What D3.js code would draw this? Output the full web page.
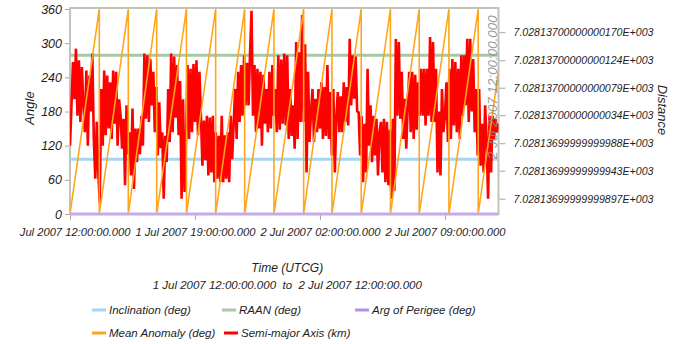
<!DOCTYPE html>
<html>
<head>
<meta charset="utf-8">
<script src="https://cdn.jsdelivr.net/npm/d3@7"></script>
<style>
  html, body { margin: 0; padding: 0; background: #fff; }
  svg { display: block; }
  text { font-family: "Liberation Sans", Arial, sans-serif; font-style: italic; fill: #1e1e1e; }
</style>
</head>
<body>
<svg id="chart" width="673" height="344"></svg>
<script>
// ---- data -------------------------------------------------------------
const startTime = Date.UTC(2007, 6, 1, 12, 0, 0);
const endTime   = Date.UTC(2007, 6, 2, 12, 0, 0);
const sampleStepMinutes = 5;

// time axis ticks (hours after start) and their labels
const timeTickHours = [0, 7, 14, 21];
const timeTickLabels = [
  "1 Jul 2007 12:00:00.000",
  "1 Jul 2007 19:00:00.000",
  "2 Jul 2007 02:00:00.000",
  "2 Jul 2007 09:00:00.000"
];
const endLabel = "2 Jul 2007 12:00:00.000";

// angle axis
const angleTicks = [0, 60, 120, 180, 240, 300, 360];

// distance axis: offsets from 7028.137 km, in units of 1e-14 km
const distBase = 7028.137;
const distTickOffsets = [-103, -57, -12, 34, 79, 124, 170];
const distTickLabels = [
  "7.02813699999999897E+003",
  "7.02813699999999943E+003",
  "7.02813699999999988E+003",
  "7.02813700000000034E+003",
  "7.02813700000000079E+003",
  "7.02813700000000124E+003",
  "7.02813700000000170E+003"
];

// constant elements (deg)
const inclinationHours = [0, 24];
const inclinationDeg   = [96, 96];
const raanHours = [0, 24];
const raanDeg   = [279, 279];
const argPerigeeHours = [0, 24];
const argPerigeeDeg   = [0, 0];

// mean anomaly: rises to 360 and wraps to 0 once per orbit
const anomalyHours = [0, 1.641, 1.641, 3.265, 3.265, 4.855, 4.855, 6.523, 6.523,
  8.159, 8.159, 9.782, 9.782, 11.423, 11.423, 13.086, 13.086, 14.671, 14.671,
  16.312, 16.312, 17.947, 17.947, 19.560, 19.560, 21.223, 21.223, 22.863, 22.863, 24];
const anomalyDeg = [0, 360, 0, 360, 0, 360, 0, 360, 0,
  360, 0, 360, 0, 360, 0, 360, 0, 360, 0,
  360, 0, 360, 0, 360, 0, 360, 0, 360, 0, 251];

// semi-major axis, 5-minute samples, offsets from 7028.137 km in 1e-14 km
const semiMajorOffset = [
  -16, 50, 121, 60, 143, 33, 124, 23, 113, 50,
  6, 107, -16, 99, 40, 135, -5, -70, 23, -60,
  -110, 77, -16, 107, 1, 99, 12, 88, -5, 107,
  20, 105, -16, 60, 33, -21, 28, -81, 50, -30,
  6, -65, 45, -87, 12, -43, 12, -30, 33, -16,
  135, 28, 132, 23, 126, 50, 105, 6, 80, -32,
  55, -20, 6, -103, 0, -43, 77, -10, 135, 6,
  130, 30,
  116, 1, 90, -103, 60, -92, -5, 116,
  -5, 110, 6, 118, 23, 124, 1, 105, 33, -49,
  25, -40, 33, -65, 30, -60, 33, -76, 6, -70,
  0, -76, 33, -76, 1, -70, 6, -76, 33, -38,
  20, 77, -5, 105, 23, 116, 33, 132, 50, 120,
  50, 135, 205, 33, 116, 6, 110, 12, 105, -16,
  100, 20, 77, 6, 105, 12, 116, 33, 77, 6,
  132, 10, 125, 20,
  135, 17, 132, -5, 77, 0,
  50, -21, 154, -5, 137, 23, 198, 23, 150, -60,
  105, -10, 39, 77, -10, 61, 6, 77, 12, 88,
  -5, 80, 0, 116, -5, 72, -32, 77, -60, 30,
  72, 6, 65, 6, 88, 23, 80, 17, 159, 50,
  132, 61, 130, 40, 39, -32, 33, -76, 20, -60,
  110, -16, 50, -43, 33, -32, 28, -65, 6, 23,
  -60, 28, -76, 23, -81, 10,
  -103, 28, -90, 159,
  33, 154, 28, 105, -5, 61, -21, 50, 105, 6,
  105, -5, 100, 10, 88, 33, 110, 33, 110, 17,
  110, 33, 162, 23, 154, 23, 110, -60, 40, -65,
  77, 6, 33, 88, -10, 110, -5, 126, 17, 121,
  6, 110, -5, 132, 33, 132, 50, 159, 23, 159,
  40, 126, 6, 77, -32, 77, -49, 20, -60, 50,
  -5, -103, 33, -60, 33, -5, 28, 6, 20
];

const seriesNames = ["Inclination (deg)", "RAAN (deg)", "Arg of Perigee (deg)",
  "Mean Anomaly (deg)", "Semi-major Axis (km)"];
const seriesColors = ["#a2d6f2", "#a6c9a4", "#b98af0", "#ffa51c", "#ff0000"];

// ---- layout -----------------------------------------------------------
const plot = { left: 70, right: 498.5, top: 9, bottom: 214 };
const HOUR = 3600 * 1000;

const svg = d3.select("#chart");

const x = d3.scaleUtc()
  .domain([new Date(startTime), new Date(endTime)])
  .range([plot.left, plot.right]);
const yAngle = d3.scaleLinear().domain([0, 360]).range([plot.bottom, plot.top]);
const yDist = d3.scaleLinear().domain([-128, 208]).range([plot.bottom, plot.top]);

const hourDate = h => new Date(startTime + h * HOUR);

svg.append("defs").append("clipPath").attr("id", "plotClip")
  .append("rect")
  .attr("x", plot.left).attr("y", plot.top - 2)
  .attr("width", plot.right - plot.left).attr("height", plot.bottom - plot.top + 4);
svg.select("defs").append("clipPath").attr("id", "tickClip")
  .append("rect").attr("x", 16.5).attr("y", 0).attr("width", 660).attr("height", 344);

// frame
svg.append("rect")
  .attr("x", plot.left).attr("y", plot.top - 1)
  .attr("width", plot.right - plot.left).attr("height", plot.bottom - plot.top + 1)
  .attr("fill", "#fff").attr("stroke", "#c3c3b6").attr("stroke-width", 2);

// axes
const axisColor = "#a8a8a0";
const leftAxis = svg.append("g")
  .attr("transform", `translate(${plot.left - 1},0)`)
  .call(d3.axisLeft(yAngle).tickValues(angleTicks).tickSize(4).tickPadding(3));
leftAxis.select(".domain").remove();
leftAxis.selectAll("line").attr("stroke", axisColor);
leftAxis.selectAll("text").attr("font-size", 12.5).attr("font-family", null);

const rightAxis = svg.append("g")
  .attr("transform", `translate(${plot.right + 1},0)`)
  .call(d3.axisRight(yDist).tickValues(distTickOffsets)
    .tickFormat((d, i) => distTickLabels[i]).tickSize(6).tickPadding(8));
rightAxis.select(".domain").remove();
rightAxis.selectAll("line").attr("stroke", axisColor);
rightAxis.selectAll("text").attr("font-size", 10.6).attr("font-family", null);

const bottomAxis = svg.append("g")
  .attr("transform", `translate(0,${plot.bottom})`)
  .attr("clip-path", "url(#tickClip)")
  .call(d3.axisBottom(x).tickValues(timeTickHours.map(hourDate))
    .tickFormat((d, i) => timeTickLabels[i]).tickSize(6).tickPadding(8));
bottomAxis.select(".domain").remove();
bottomAxis.selectAll("line").attr("stroke", axisColor);
bottomAxis.selectAll("text").attr("font-size", 11.2).attr("font-family", null);

// series
const g = svg.append("g").attr("clip-path", "url(#plotClip)");
const angleLine = d3.line().x(d => x(hourDate(d[0]))).y(d => yAngle(d[1]));
const zipped = (hs, vs) => hs.map((h, i) => [h, vs[i]]);

g.append("path").attr("d", angleLine(zipped(inclinationHours, inclinationDeg)))
  .attr("fill", "none").attr("stroke", seriesColors[0]).attr("stroke-width", 3);
g.append("path").attr("d", angleLine(zipped(raanHours, raanDeg)))
  .attr("fill", "none").attr("stroke", seriesColors[1]).attr("stroke-width", 3);

const smaLine = d3.line()
  .x((d, i) => x(new Date(startTime + i * sampleStepMinutes * 60000)))
  .y(d => yDist(d));
g.append("path").attr("d", smaLine(semiMajorOffset))
  .attr("fill", "none").attr("stroke", seriesColors[4]).attr("stroke-width", 2.6)
  .attr("stroke-linejoin", "bevel");

g.append("path").attr("d", angleLine(zipped(anomalyHours, anomalyDeg)))
  .attr("fill", "none").attr("stroke", seriesColors[3]).attr("stroke-width", 1.6);

svg.append("path").attr("d", angleLine(zipped(argPerigeeHours, argPerigeeDeg)))
  .attr("fill", "none").attr("stroke", "#c9a8ec").attr("stroke-width", 3);

// end-of-span time label, drawn upright along the right edge
svg.append("text")
  .attr("transform", `translate(${x(new Date(endTime)) - 1.5},159) rotate(-90)`)
  .attr("font-size", 13.4)
  .style("fill", "#8c8c8c").attr("opacity", 0.85)
  .text(endLabel);

// axis titles
svg.append("text")
  .attr("transform", "translate(34,108) rotate(-90)")
  .attr("text-anchor", "middle").attr("font-size", 13)
  .text("Angle");
svg.append("text")
  .attr("transform", "translate(658,110) rotate(90)")
  .attr("text-anchor", "middle").attr("font-size", 13)
  .text("Distance");

const midX = (plot.left + plot.right) / 2 + 3;
svg.append("text").attr("x", midX).attr("y", 272)
  .attr("text-anchor", "middle").attr("font-size", 12)
  .text("Time (UTCG)");
svg.append("text").attr("x", midX).attr("y", 289)
  .attr("text-anchor", "middle").attr("font-size", 11.5)
  .attr("xml:space", "preserve").style("white-space", "pre")
  .text("1 Jul 2007 12:00:00.000  to  2 Jul 2007 12:00:00.000");

// legend
const legendPos = [[92, 310], [222, 310], [355, 310], [92, 333], [224, 333]];
const legend = svg.append("g");
seriesNames.forEach((name, i) => {
  const [lx, ly] = legendPos[i];
  legend.append("line")
    .attr("x1", lx).attr("x2", lx + 14).attr("y1", ly).attr("y2", ly)
    .attr("stroke", seriesColors[i]).attr("stroke-width", 3);
  legend.append("text")
    .attr("x", lx + 17).attr("y", ly + 4)
    .attr("font-size", 11.5)
    .text(name);
});
</script>
</body>
</html>
